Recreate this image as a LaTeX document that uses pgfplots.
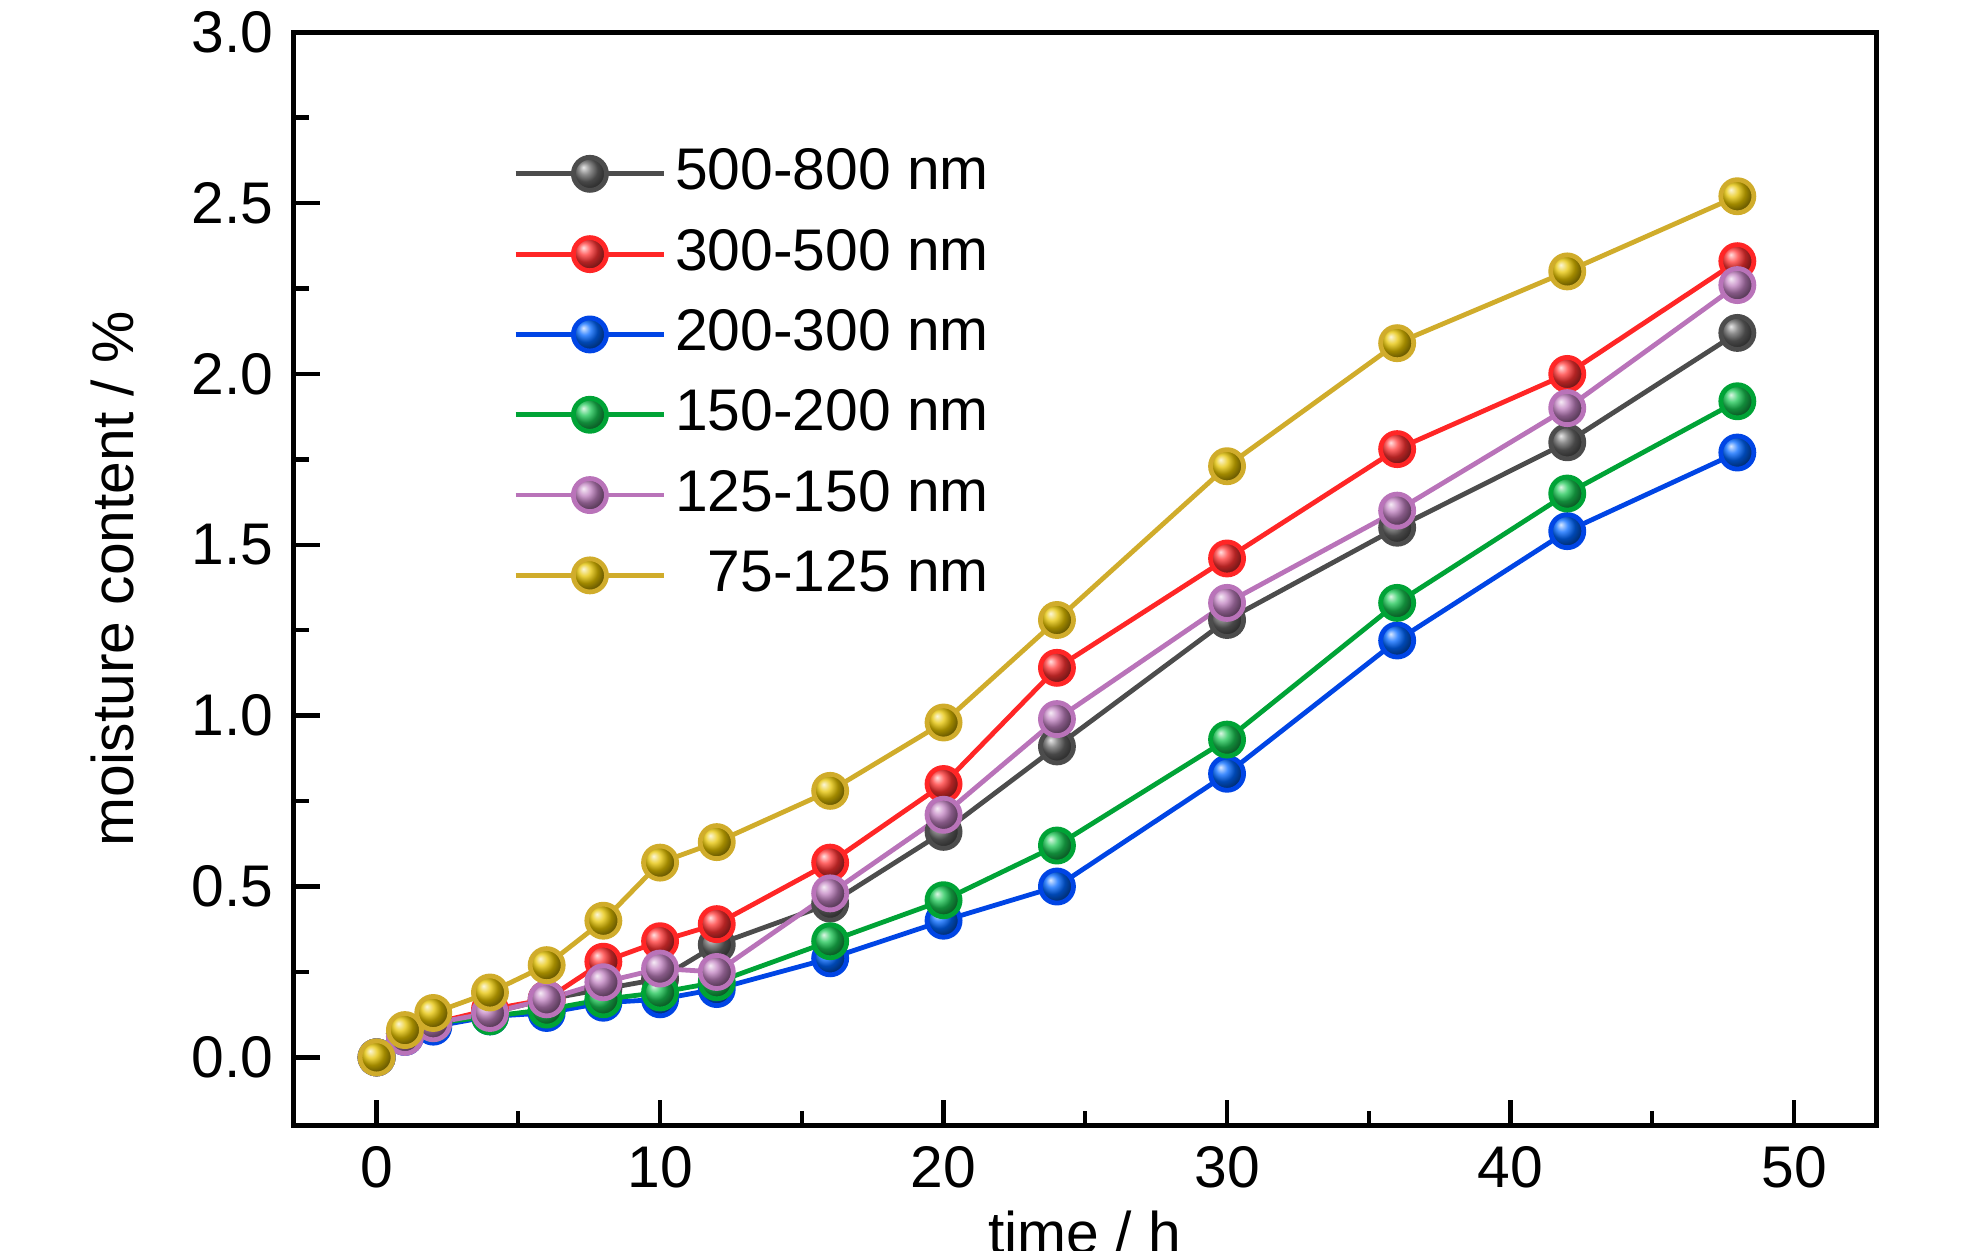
\documentclass[border=0pt]{standalone}
\usepackage{pgfplots}
\pgfplotsset{compat=1.18}
\usepackage{fontspec}
\setmainfont{Liberation Sans}
\begin{document}
\fontsize{13.5}{16}\selectfont
\begin{tikzpicture}
\useasboundingbox (-2.37,-1.01) rectangle (13.65,9.09);
\begin{axis}[at={(0,0)},anchor=south west,scale only axis,width=12.78cm,height=8.83cm,
 xmin=-2.93,xmax=52.9,ymin=-0.2,ymax=3.0,
 xtick={0,10,...,50},ytick={0,0.5,...,3},minor x tick num=1,minor y tick num=1,
 axis line style={line width=1.2pt},tick style={line width=1pt,black},
 major tick length=6pt,minor tick length=3.5pt,tick align=inside,
 xtick pos=bottom,ytick pos=left,
 /pgf/number format/assume math mode=true,
 yticklabel style={/pgf/number format/.cd,fixed,fixed zerofill,precision=1},
 xlabel={time / h},ylabel={moisture content / \%},
 xlabel style={yshift=4pt},ylabel style={yshift=4pt},
 legend style={draw=none,fill=none,at={(0.13,0.91)},anchor=north west,row sep=3pt,
   nodes={inner sep=2pt}},
 legend cell align=left,
 legend image code/.code={\draw[mark repeat=2,mark phase=2] plot coordinates {(0cm,0cm)(0.6cm,0cm)(1.2cm,0cm)};},
 every axis plot/.append style={line width=1.1pt,mark=ball,mark size=3.8pt},
]
\addplot[color=black!70,mark options={ball color=black!60}] coordinates {(0,0)(1,0.07)(2,0.1)(4,0.13)(6,0.17)(8,0.2)(10,0.23)(12,0.33)(16,0.45)(20,0.66)(24,0.91)(30,1.28)(36,1.55)(42,1.80)(48,2.12)};
\addplot[color=red!85,mark options={ball color=red!80}] coordinates {(0,0)(1,0.07)(2,0.1)(4,0.14)(6,0.17)(8,0.28)(10,0.34)(12,0.39)(16,0.57)(20,0.80)(24,1.14)(30,1.46)(36,1.78)(42,2.00)(48,2.33)};
\addplot[color=blue!70!cyan!90!black,mark options={ball color=blue!60!cyan}] coordinates {(0,0)(1,0.06)(2,0.09)(4,0.12)(6,0.13)(8,0.16)(10,0.17)(12,0.2)(16,0.29)(20,0.40)(24,0.50)(30,0.83)(36,1.22)(42,1.54)(48,1.77)};
\addplot[color=green!50!teal!85!black,mark options={ball color=green!50!teal!90}] coordinates {(0,0)(1,0.07)(2,0.1)(4,0.12)(6,0.14)(8,0.17)(10,0.19)(12,0.22)(16,0.34)(20,0.46)(24,0.62)(30,0.93)(36,1.33)(42,1.65)(48,1.92)};
\addplot[color=violet!55!white,mark options={ball color=violet!50!white}] coordinates {(0,0)(1,0.06)(2,0.1)(4,0.13)(6,0.17)(8,0.22)(10,0.26)(12,0.25)(16,0.48)(20,0.71)(24,0.99)(30,1.33)(36,1.60)(42,1.90)(48,2.26)};
\addplot[color=yellow!60!orange!80!black,mark options={ball color=yellow!70!orange!90!black}] coordinates {(0,0)(1,0.08)(2,0.13)(4,0.19)(6,0.27)(8,0.40)(10,0.57)(12,0.63)(16,0.78)(20,0.98)(24,1.28)(30,1.73)(36,2.09)(42,2.30)(48,2.52)};
\legend{500-800 nm,300-500 nm,200-300 nm,150-200 nm,125-150 nm,\phantom{0}75-125 nm}
\end{axis}
\end{tikzpicture}
\end{document}
